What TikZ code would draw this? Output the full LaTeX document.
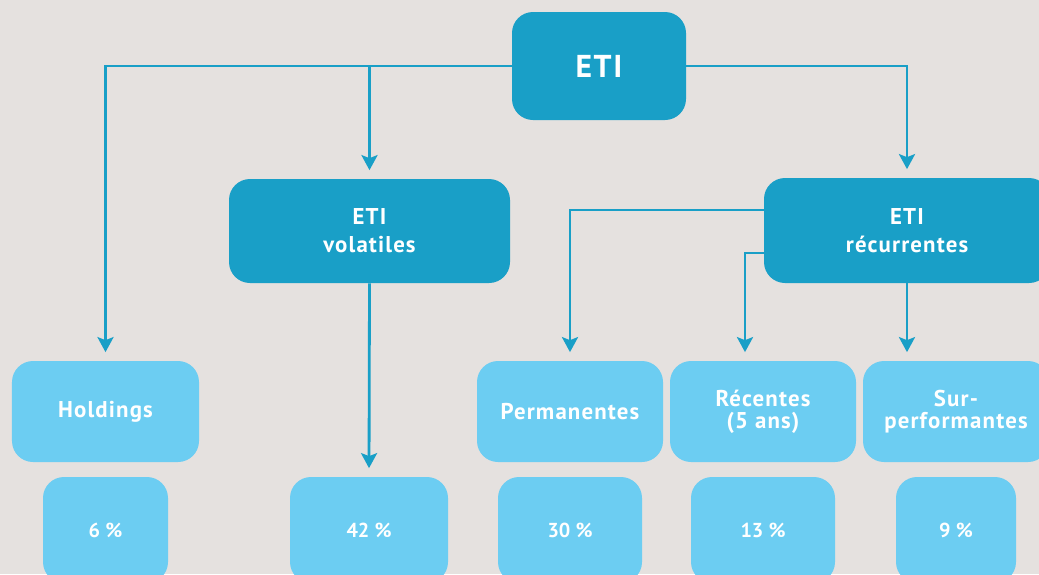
\documentclass[tikz,border=0pt]{standalone}
\usepackage{fontspec}
\setmainfont{PT Sans}
\newfontfamily\boxfont[LetterSpace=5]{PT Sans}
\usepackage{tikz}
\usetikzlibrary{arrows.meta, positioning, calc}
\definecolor{bgback}{RGB}{229,225,223}
\definecolor{etidark}{RGB}{25,159,199}
\definecolor{etilight}{RGB}{108,205,242}
\tikzset{
  darkbox/.style={rectangle, fill=etidark, text=white, align=center,
    font=\boxfont\bfseries\fontsize{13}{16}\selectfont, rounded corners=0.42cm},
  lightbox/.style={rectangle, fill=etilight, text=white, align=center,
    font=\boxfont\bfseries\fontsize{13}{12.5}\selectfont, rounded corners=0.42cm,
    minimum width=3.72cm, minimum height=2.02cm},
  pctbox/.style={rectangle, fill=etilight, text=white, align=center,
    font=\bfseries\fontsize{11.5}{13}\selectfont, rounded corners=0.42cm,
    minimum height=2.12cm},
  arrow/.style={-{Stealth[length=0.3cm, width=0.32cm, inset=0.06cm]},
    line width=1.6pt, color=etidark, shorten >=0.17cm},
  line/.style={line width=1.6pt, color=etidark}
}
\begin{document}
\begin{tikzpicture}
  \fill[bgback] (0,0) rectangle (20.78,-11.48);
  \useasboundingbox (0,0) rectangle (20.78,-11.48);
  \begin{scope}
  \clip (0,0) rectangle (20.78,-11.48);

  % --- Top level ---
  \node[darkbox, minimum width=3.48cm, minimum height=2.16cm,
        font=\boxfont\bfseries\fontsize{18}{20}\selectfont] (eti) at (11.98,-1.32) {ETI};

  % --- Second level ---
  \node[darkbox, minimum width=5.62cm, minimum height=2.08cm] (vol) at (7.39,-4.62) {ETI\\volatiles};
  \node[darkbox, minimum width=5.72cm, minimum height=2.10cm] (rec) at (18.14,-4.61) {ETI\\récurrentes};

  % --- Categories ---
  \node[lightbox, minimum width=3.74cm] (hold) at (2.11,-8.23) {Holdings};
  \node[lightbox] (perm) at (11.40,-8.23) {Permanentes};
  \node[lightbox] (recent) at (15.26,-8.23) {Récentes\\(5 ans)};
  \node[lightbox] (sur) at (19.12,-8.23) {Sur-\\performantes};

  % --- Shares ---
  \node[pctbox, minimum width=2.50cm] (p6) at (2.11,-10.60) {6 \%};
  \node[pctbox, minimum width=3.16cm] (p42) at (7.38,-10.60) {42 \%};
  \node[pctbox, minimum width=2.88cm] (p30) at (11.40,-10.60) {30 \%};
  \node[pctbox, minimum width=2.88cm] (p13) at (15.26,-10.60) {13 \%};
  \node[pctbox, minimum width=2.40cm] (p9) at (19.12,-10.60) {9 \%};

  \coordinate (recentin) at ([xshift=-0.36cm]recent.north);
  \coordinate (surin) at (rec.south |- sur.north);

  % --- Connectors ---
  \draw[arrow] (eti.west) -| (hold.north);
  \draw[arrow] (eti.west -| vol.north) -- (vol.north);
  \draw[arrow] (eti.east) -| (rec.north);
  \draw[arrow] (vol.south) -- (p42.north);
  \draw[arrow] ([yshift=0.41cm]rec.west) -| (perm.north);
  \draw[arrow] ([yshift=-0.45cm]rec.west) -| (recentin);
  \draw[arrow] (rec.south) -- (surin);
  \end{scope}
\end{tikzpicture}
\end{document}
